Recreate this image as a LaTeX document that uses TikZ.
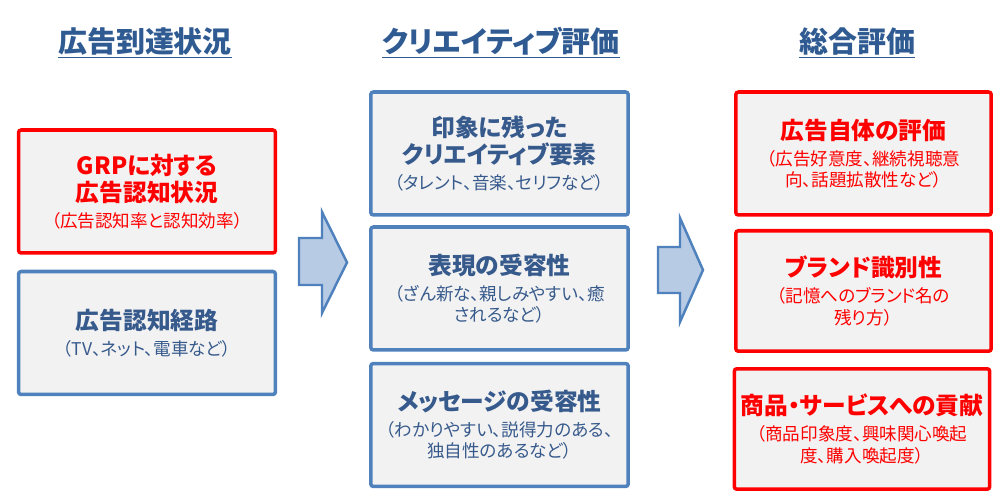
\documentclass[tikz,border=0pt]{standalone}
\usepackage{fontspec}
\newfontfamily\jp{Noto Sans CJK JP}
\newfontfamily\jpp{Noto Sans CJK JP}[RawFeature=+palt]
\usetikzlibrary{positioning}

\definecolor{boxblue}{HTML}{4F81BD}
\definecolor{ttlblue}{HTML}{2F5B92}
\definecolor{txtblue}{HTML}{375A8C}
\definecolor{boxfill}{HTML}{F2F2F2}
\definecolor{arrfill}{HTML}{B7CBE5}
\definecolor{boxred}{HTML}{FF0000}

\newcommand\htx{\jpp\bfseries\fontsize{13.5}{12}\selectfont}
\newcommand\stx{\jpp\fontsize{10}{12}\selectfont}
\newcommand\boxfont{\stx\lineskiplimit=-20pt\relax}

\begin{document}
\begin{tikzpicture}[x=0.02cm, y=-0.02cm,
  box/.style={draw=boxblue, line width=2pt, fill=boxfill, rounded corners=1.5pt,
    minimum width=5.14cm, minimum height=2.46cm, inner xsep=2pt,
    align=center, text=txtblue, font=\boxfont},
  redbox/.style={box, draw=boxred, text=boxred},
  ttl/.style={font=\jpp\bfseries\fontsize{16.5}{20}\selectfont, text=ttlblue},
  arr/.style={draw=boxblue, line width=1.4pt, fill=arrfill, line join=miter},
]
\useasboundingbox (0,0) rectangle (1004,502);

% column titles
\node[ttl] (t1) at (145,43) {\underline{広告到達状況}};
\node[ttl] (t2) at (501,43) {\underline{クリエイティブ評価}};
\node[ttl] (t3) at (857,43) {\underline{総合評価}};

% left column
\node[redbox] (grp) at (147,191.5) {{\htx GRPに対する}\\[3.4pt]{\htx 広告認知状況}\\[2.8pt]（広告認知率と認知効率）};
\node[box] (route) at (147,333) {{\htx 広告認知経路}\\[2.8pt]（TV、ネット、電車など）};

% middle column
\node[box, minimum width=5.15cm] (elem) at (499.5,153.5) {{\htx 印象に残った}\\[3.4pt]{\htx クリエイティブ要素}\\[2.8pt]（タレント、音楽、セリフなど）};
\node[box, minimum width=5.15cm] (expr) at (499.5,288.5) {{\htx 表現の受容性}\\[2.8pt]（ざん新な、親しみやすい、癒\\されるなど）};
\node[box, minimum width=5.15cm] (msg) at (499.5,425) {{\htx メッセージの受容性}\\[2.8pt]（わかりやすい、説得力のある、\\独自性のあるなど）};

% right column
\node[redbox, minimum width=5.11cm] (self) at (863.5,153.5) {{\htx 広告自体の評価}\\[2.8pt]（広告好意度、継続視聴意\\向、話題拡散性など）};
\node[redbox, minimum width=5.11cm, minimum height=2.41cm] (brand) at (863.5,291) {{\htx ブランド識別性}\\[2.8pt]（記憶へのブランド名の\\残り方）};
\node[redbox, minimum width=5.11cm, minimum height=2.41cm] (prod) at (862,429) {{\htx 商品・サービスへの貢献}\\[2.8pt]（商品印象度、興味関心喚起\\度、購入喚起度）};

% block arrows
\draw[arr] (299,238) -- (322,238) -- (322,212) -- (347,262.5) -- (322,313) -- (322,285) -- (299,285) -- cycle;
\draw[arr] (658,247) -- (680,247) -- (680,218) -- (703,270) -- (680,322) -- (680,293) -- (658,293) -- cycle;
\end{tikzpicture}
\end{document}
